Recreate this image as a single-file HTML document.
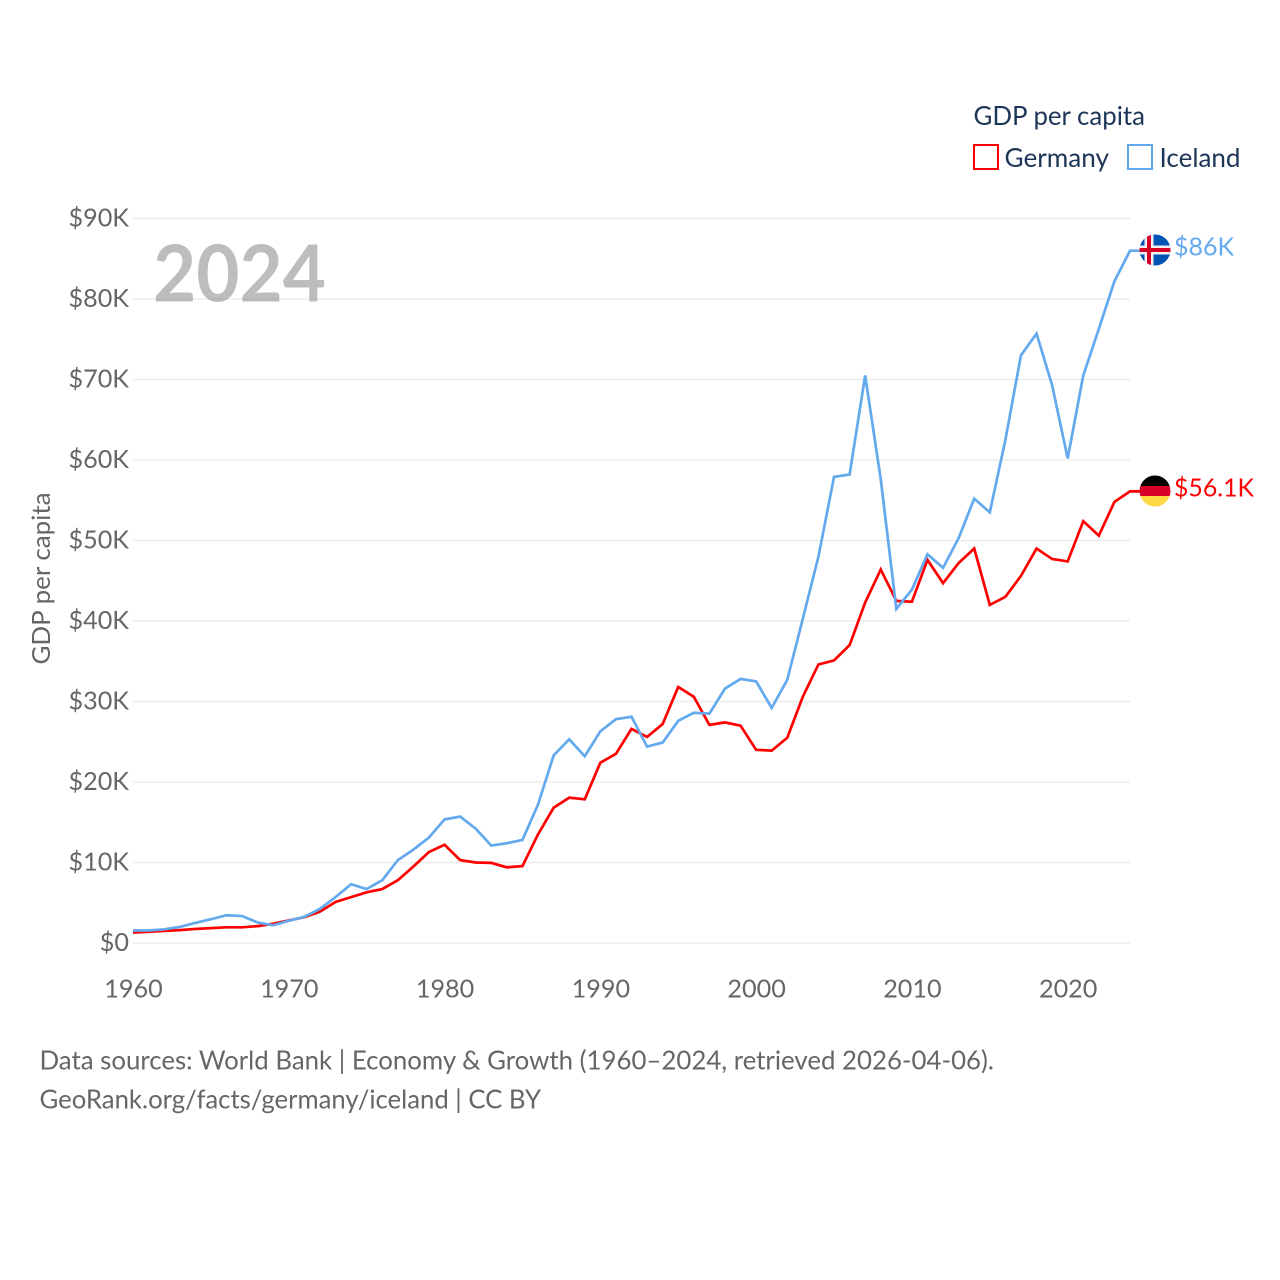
<!DOCTYPE html>
<html>
<head>
<meta charset="utf-8">
<title>GDP per capita: Germany vs Iceland</title>
<style>
html,body{margin:0;padding:0;background:#fff;}
svg{display:block;font-family:"Lato","Carlito","Liberation Sans",sans-serif;}
</style>
</head>
<body>
<svg id="chart" width="1280" height="1280" viewBox="0 0 1280 1280" xmlns="http://www.w3.org/2000/svg">
  <defs>
    <clipPath id="clip-is"><circle cx="1155" cy="250" r="15.5"/></clipPath>
    <clipPath id="clip-de"><circle cx="1155" cy="491" r="15.5"/></clipPath>
  </defs>
  <g id="grid"></g>
  <g id="yticks"></g>
  <g id="xticks"></g>
  <text x="153" y="301.5" font-size="79" font-weight="700" fill="#7b7b7b" fill-opacity="0.5" textLength="173" lengthAdjust="spacingAndGlyphs">2024</text>
  <text transform="translate(50,664.5) rotate(-90)" font-size="25" fill="#666666" textLength="172" lengthAdjust="spacingAndGlyphs">GDP per capita</text>
  <g id="series"></g>
  <g clip-path="url(#clip-is)">
    <rect x="1139" y="234" width="32" height="32" fill="#0052b4"/>
    <rect x="1144.5" y="234" width="9" height="32" fill="#f0f0f0"/>
    <rect x="1139" y="245.5" width="32" height="9" fill="#f0f0f0"/>
    <rect x="1147" y="234" width="4" height="32" fill="#d80027"/>
    <rect x="1139" y="248" width="32" height="4" fill="#d80027"/>
  </g>
  <g clip-path="url(#clip-de)">
    <rect x="1139" y="475" width="32" height="11" fill="#000000"/>
    <rect x="1139" y="486" width="32" height="10" fill="#d80027"/>
    <rect x="1139" y="496" width="32" height="11" fill="#ffda44"/>
  </g>
  <text x="1174" y="255.5" font-size="25" fill="#63a9ee" textLength="60" lengthAdjust="spacingAndGlyphs">$86K</text>
  <text x="1174" y="496.5" font-size="25" fill="#ff0000" textLength="80" lengthAdjust="spacingAndGlyphs">$56.1K</text>
  <text x="973.5" y="125" font-size="26" fill="#1d3557" textLength="171.5" lengthAdjust="spacingAndGlyphs">GDP per capita</text>
  <rect x="974" y="145" width="24" height="24" fill="#fff" stroke="#ff0000" stroke-width="2"/>
  <text x="1004.5" y="167" font-size="26" fill="#1d3557" textLength="104.5" lengthAdjust="spacingAndGlyphs">Germany</text>
  <rect x="1128" y="145" width="24" height="24" fill="#fff" stroke="#63a9ee" stroke-width="2"/>
  <text x="1159.5" y="167" font-size="26" fill="#1d3557" textLength="81" lengthAdjust="spacingAndGlyphs">Iceland</text>
  <text x="39.5" y="1069.5" font-size="26" fill="#666666" textLength="954.5" lengthAdjust="spacingAndGlyphs">Data sources: World Bank | Economy &amp; Growth (1960–2024, retrieved 2026-04-06).</text>
  <text x="39.5" y="1108.5" font-size="26" fill="#666666" textLength="501.5" lengthAdjust="spacingAndGlyphs">GeoRank.org/facts/germany/iceland | CC BY</text>
</svg>
<script>
const startYear = 1960;
const germanyValues = [1.3,1.4,1.5,1.6,1.75,1.85,1.95,1.95,2.1,2.4,2.8,3.2,3.9,5.1,5.7,6.3,6.7,7.8,9.5,11.3,12.2,10.3,10.0,9.95,9.4,9.55,13.5,16.8,18.05,17.85,22.4,23.5,26.6,25.6,27.2,31.8,30.6,27.1,27.4,27.0,24.0,23.9,25.5,30.6,34.6,35.1,37.0,42.3,46.4,42.5,42.4,47.6,44.7,47.2,49.0,42.0,43.0,45.6,49.0,47.7,47.4,52.4,50.6,54.8,56.1];
const icelandValues = [1.55,1.55,1.7,2.0,2.5,2.95,3.45,3.35,2.55,2.2,2.75,3.25,4.25,5.7,7.3,6.7,7.8,10.3,11.6,13.1,15.35,15.7,14.2,12.1,12.4,12.8,17.2,23.3,25.3,23.2,26.3,27.8,28.1,24.4,24.9,27.6,28.6,28.5,31.6,32.8,32.5,29.2,32.7,40.3,48.0,57.9,58.2,70.5,57.6,41.5,43.9,48.3,46.6,50.3,55.2,53.5,62.5,73.0,75.7,69.3,60.2,70.5,76.3,82.2,86.0];
const yTickValues = [0,10,20,30,40,50,60,70,80,90];
const yTickLabels = ["$0","$10K","$20K","$30K","$40K","$50K","$60K","$70K","$80K","$90K"];
const xTickYears = [1960,1970,1980,1990,2000,2010,2020];

const NS = "http://www.w3.org/2000/svg";
const xScale = year => 133 + (year - 1960) * (1130 - 133) / 64;
const yScale = value => 943 - value * (943 - 218.5) / 90;
const make = (tag, parent) => { const e = document.createElementNS(NS, tag); parent.appendChild(e); return e; };

const grid = document.getElementById("grid");
const yticks = document.getElementById("yticks");
const xticks = document.getElementById("xticks");
const series = document.getElementById("series");

yTickValues.forEach((v, i) => {
  const line = make("line", grid);
  
  
  line.setAttribute("x1", 133);
  line.setAttribute("x2", 1130);
  line.setAttribute("y1", yScale(v));
  line.setAttribute("y2", yScale(v));
  line.setAttribute("stroke", "#e9e9e9");
  line.setAttribute("stroke-width", "1.3");
  const t = make("text", yticks);
  
  
  t.setAttribute("x", 129);
  t.setAttribute("y", yScale(v) + 8);
  t.setAttribute("text-anchor", "end");
  t.setAttribute("font-size", "25.2");
  t.setAttribute("fill", "#666666");
  t.textContent = yTickLabels[i];
});

xTickYears.forEach(year => {
  const t = make("text", xticks);
  
  
  t.setAttribute("x", xScale(year) + 0.5);
  t.setAttribute("y", 997.5);
  t.setAttribute("text-anchor", "middle");
  t.setAttribute("font-size", "25.2");
  t.setAttribute("fill", "#666666");
  t.textContent = String(year);
});

function drawSeries(values, color) {
  const pts = values.map((v, i) => xScale(startYear + i).toFixed(2) + "," + yScale(v).toFixed(2));
  const last = values[values.length - 1];
  pts.push("1142," + yScale(last).toFixed(2));
  const line = make("polyline", series);
  line.setAttribute("points", pts.join(" "));
  line.setAttribute("fill", "none");
  line.setAttribute("stroke", color);
  line.setAttribute("stroke-width", "2.7");
  line.setAttribute("stroke-linejoin", "miter");
  return line;
}
const germanyLine = drawSeries(germanyValues, "#ff0000");


const icelandLine = drawSeries(icelandValues, "#63a9ee");


</script>
</body>
</html>
